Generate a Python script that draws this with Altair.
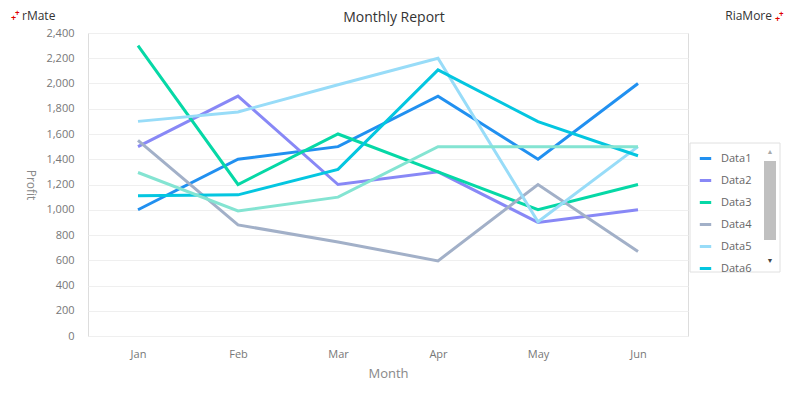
import altair as alt
import pandas as pd

months = ["Jan", "Feb", "Mar", "Apr", "May", "Jun"]
series_names = ["Data1", "Data2", "Data3", "Data4", "Data5", "Data6", "Data7"]
data1 = [1000, 1400, 1500, 1900, 1400, 2000]
data2 = [1500, 1900, 1200, 1300, 900, 1000]
data3 = [2300, 1200, 1600, 1300, 1000, 1200]
data4 = [1550, 880, 745, 595, 1200, 670]
data5 = [1700, 1775, 1990, 2200, 905, 1500]
data6 = [1110, 1118, 1320, 2108, 1698, 1428]
data7 = [1295, 990, 1100, 1500, 1500, 1500]
colors = ["#2190f0", "#8888f6", "#06d8a6", "#a2b0c8", "#98dcf8", "#04c6e0", "#84e4d2"]

rows = []
for name, vals in zip(series_names, [data1, data2, data3, data4, data5, data6, data7]):
    for m, v in zip(months, vals):
        rows.append({"Month": m, "Profit": v, "Series": name})
df = pd.DataFrame(rows)

FONT = "Open Sans"
one = pd.DataFrame({"a": [0]})

lines = alt.Chart(df).mark_line(strokeWidth=3).encode(
    x=alt.X("Month:N", sort=months, scale=alt.Scale(type="point", padding=0.5),
            axis=alt.Axis(title="Month", labelAngle=0, grid=False, domain=False, ticks=False,
                          labelPadding=12, labelColor="#777", labelFontSize=11, labelFont=FONT,
                          titleColor="#888", titleFontSize=13, titleFont=FONT, titleFontWeight="normal",
                          titlePadding=8)),
    y=alt.Y("Profit:Q", scale=alt.Scale(domain=[0, 2400], nice=False),
            axis=alt.Axis(title="Profit", values=list(range(0, 2401, 200)), format=",.0f",
                          grid=True, gridColor="#efefef", domain=False, ticks=False,
                          labelPadding=14, labelColor="#777", labelFontSize=11, labelFont=FONT,
                          titleColor="#888", titleFontSize=12, titleFont=FONT, titleFontWeight="normal",
                          titleAngle=90, titlePadding=22)),
    color=alt.Color("Series:N", sort=series_names,
                    scale=alt.Scale(domain=series_names, range=colors),
                    legend=alt.Legend(title=None, orient="none", legendX=602, legendY=110,
                                      values=series_names[:6],
                                      symbolType="stroke", symbolStrokeWidth=3, symbolSize=130,
                                      labelFont=FONT, labelFontSize=11, labelColor="#666",
                                      rowPadding=8, padding=8, labelOffset=8, labelLimit=60)),
    detail="Series:N",
)

# legend frame and fake scrollbar
frame = alt.Chart(one).mark_rect(fill="white", stroke="#e0e0e0", strokeWidth=1).encode(
    x=alt.value(602), x2=alt.value(692), y=alt.value(110), y2=alt.value(239))
scroll = alt.Chart(one).mark_rect(color="#c0c0c0").encode(
    x=alt.value(676), x2=alt.value(688), y=alt.value(128), y2=alt.value(207))
up = alt.Chart(one).mark_text(text="▲", fontSize=7, color="#aaa").encode(
    x=alt.value(682), y=alt.value(119))
down = alt.Chart(one).mark_text(text="▼", fontSize=7, color="#444").encode(
    x=alt.value(682), y=alt.value(228))

title = alt.Chart(one).mark_text(
    text="Monthly Report", font=FONT, fontSize=14, color="#333", align="center", baseline="middle").encode(
    x=alt.value(306), y=alt.value(-15))

left_logo = alt.Chart(one).mark_text(
    text="rMate", font=FONT, fontSize=12, color="#333", align="left", baseline="middle").encode(
    x=alt.value(-66), y=alt.value(-17))
left_plus = alt.Chart(one).mark_text(
    text="+", font=FONT, fontSize=9, fontWeight="bold", color="#e00000", align="left", baseline="middle").encode(
    x=alt.value(-77), y=alt.value(-15))
left_plus2 = alt.Chart(one).mark_text(
    text="+", font=FONT, fontSize=8, fontWeight="bold", color="#e00000", align="left", baseline="middle").encode(
    x=alt.value(-73), y=alt.value(-19))
right_logo = alt.Chart(one).mark_text(
    text="RiaMore", font=FONT, fontSize=12, color="#333", align="right", baseline="middle").encode(
    x=alt.value(684), y=alt.value(-17))
right_plus = alt.Chart(one).mark_text(
    text="+", font=FONT, fontSize=9, fontWeight="bold", color="#e00000", align="left", baseline="middle").encode(
    x=alt.value(687), y=alt.value(-14))
right_plus2 = alt.Chart(one).mark_text(
    text="+", font=FONT, fontSize=8, fontWeight="bold", color="#e00000", align="left", baseline="middle").encode(
    x=alt.value(691), y=alt.value(-18))

chart = alt.layer(lines, frame, scroll, up, down, title, left_logo, left_plus, left_plus2,
                  right_logo, right_plus, right_plus2).properties(
    width=600, height=303,
    autosize=alt.AutoSizeParams(type="none"),
    padding={"left": 80, "top": 25, "right": 100, "bottom": 52},
).configure_view(stroke="#eaeaea").configure(background="white")

chart.save("out.html", embed_options={"renderer": "svg", "actions": False})
